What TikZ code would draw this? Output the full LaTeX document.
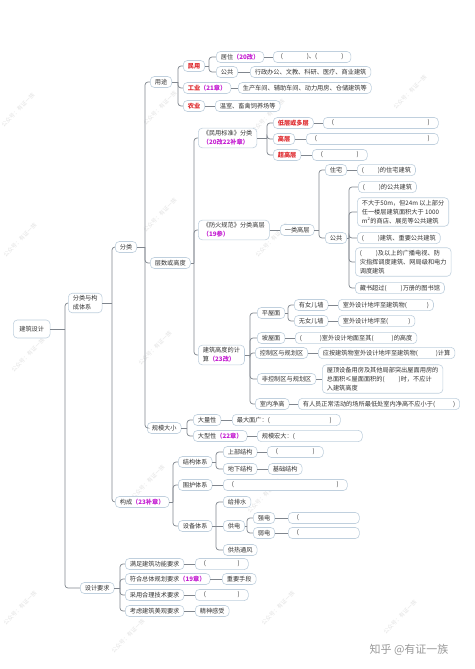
\documentclass[tikz,border=0pt]{standalone}
\usepackage{fontspec}
\setmainfont{Noto Sans CJK SC}
\definecolor{linkgray}{RGB}{128,134,142}
\definecolor{boxline}{RGB}{192,208,222}
\definecolor{hotred}{RGB}{222,40,44}
\definecolor{chapmag}{RGB}{196,30,210}
\definecolor{inkgray}{RGB}{51,51,51}
\newcommand\chap[1]{\textcolor{chapmag}{\bfseries （#1）}}
\newcommand\kong[1]{\makebox[#1]{\hspace{4pt}(\hfill)\hspace{4pt}}}

\begin{document}
\begin{tikzpicture}[x=1pt,y=-1pt,
  every node/.style={font=\fontsize{6.2}{9}\selectfont, text=inkgray},
  leaf/.style={draw=boxline, fill=white, rounded corners=4pt, line width=0.6pt,
    inner xsep=4.5pt, inner ysep=2.4pt, minimum height=11pt, anchor=west, align=left},
  hot/.style={leaf, text=hotred, font=\fontsize{6.2}{9}\selectfont\bfseries},
  link/.style={draw=linkgray, line width=0.7pt, rounded corners=3pt},
  wmark/.style={text=black!11, rotate=45, font=\fontsize{5.5}{6}\selectfont}]
  \useasboundingbox (0,0) rectangle (474,669);
  \fill[white] (0,0) rectangle (474,669);
  % watermarks
  \node[wmark] (wm1) at (18,110) {公众号：有证一族};
  \node[wmark] (wm2) at (160,108) {公众号：有证一族};
  \node[wmark] (wm3) at (268,116) {公众号：有证一族};
  \node[wmark] (wm4) at (410,92) {公众号：有证一族};
  \node[wmark] (wm5) at (20,240) {公众号：有证一族};
  \node[wmark] (wm6) at (160,215) {公众号：有证一族};
  \node[wmark] (wm7) at (272,240) {公众号：有证一族};
  \node[wmark] (wm9) at (28,355) {公众号：有证一族};
  \node[wmark] (wm10) at (155,348) {公众号：有证一族};
  \node[wmark] (wm12) at (148,482) {公众号：有证一族};
  \node[wmark] (wm13) at (264,496) {公众号：有证一族};
  \node[wmark] (wm15) at (20,608) {公众号：有证一族};
  \node[wmark] (wm16) at (128,636) {公众号：有证一族};
  \node[wmark] (wm17) at (278,608) {公众号：有证一族};
  \node[wmark] (wm18) at (400,617) {公众号：有证一族};
  \node[text=black!40, font=\fontsize{11}{12}\selectfont] (zhihu) at (409,650) {知乎 @有证一族};

  % trunk
  \node[leaf, minimum height=18pt, inner xsep=6pt] (root) at (13,329) {建筑设计};
  \node[leaf] (fl) at (68,303) {分类与构\\成体系};
  \node[leaf] (fenlei) at (115,247) {分类};
  \node[leaf] (goucheng) at (115,502) {构成\chap{23补章}};
  \node[leaf] (yaoqiu) at (80,588) {设计要求};
  \node[leaf] (yongtu) at (150,82) {用途};
  \node[leaf] (cengshu) at (150,263) {层数或高度};
  \node[leaf] (guimo) at (147,428) {规模大小};

  % yongtu
  \node[hot] (minyong) at (183,66) {民用};
  \node[hot] (gongye) at (183,88) {工业\chap{21章}};
  \node[hot] (nongye) at (183,106) {农业};
  \node[leaf] (juzhu) at (216,57) {居住\chap{20改}};
  \node[leaf] (juzhu-b) at (273,57) {\hspace{3pt}(\hspace{24pt})、(\hspace{24pt})\hspace{3pt}};
  \node[leaf] (gonggong) at (216,72) {公共};
  \node[leaf] (gonggong-b) at (250,72) {行政办公、文教、科研、医疗、商业建筑};
  \node[leaf] (gongye-b) at (238,88) {生产车间、辅助车间、动力用房、仓储建筑等};
  \node[leaf] (nongye-b) at (215,106) {温室、畜禽饲养场等};

  % cengshu
  \node[leaf] (minbiao) at (198,138) {《民用标准》分类\\\chap{20改22补章}};
  \node[hot] (diceng) at (273,123) {低层或多层};
  \node[leaf] (diceng-b) at (323,123) {\kong{106pt}};
  \node[hot] (gaoceng) at (273,139) {高层};
  \node[leaf] (gaoceng-b) at (306,139) {\kong{123pt}};
  \node[hot] (chaogao) at (273,155) {超高层};
  \node[leaf] (chaogao-b) at (312,155) {\kong{46pt}};
  \node[leaf] (fanghuo) at (198,230) {《防火规范》分类高层\\\chap{19参}};
  \node[leaf] (yilei) at (280,230) {一类高层};
  \node[leaf] (zhuzhai) at (325,170) {住宅};
  \node[leaf] (zhuzhai-b) at (357,170) {(\hspace{14pt})的住宅建筑};
  \node[leaf] (gonggong2) at (325,238) {公共};
  \node[leaf] (gg-a) at (358,187) {(\hspace{14pt})的公共建筑};
  \node[leaf] (gg-b) at (357,212) {不大于50m，但24m 以上部分\\任一楼层建筑面积大于 1000\\m\textsuperscript{2}的商店、展览等公共建筑};
  \node[leaf] (gg-c) at (357,238) {(\hspace{14pt})建筑、重要公共建筑};
  \node[leaf] (gg-d) at (355,262) {(\hspace{14pt})及以上的广播电视、防\\灾指挥调度建筑、网局级和电力\\调度建筑};
  \node[leaf] (gg-e) at (355,288) {藏书超过(\hspace{14pt})万册的图书馆};
  \node[leaf] (jisuan) at (198,355) {建筑高度的计\\算\chap{23改}};
  \node[leaf] (pingwu) at (257,313) {平屋面};
  \node[leaf] (younv) at (294,305) {有女儿墙};
  \node[leaf] (younv-b) at (338,305) {室外设计地坪至建筑物(\hspace{20pt})};
  \node[leaf] (wunv) at (294,321) {无女儿墙};
  \node[leaf] (wunv-b) at (338,321) {室外设计地坪至(\hspace{20pt})};
  \node[leaf] (powu) at (257,338) {坡屋面};
  \node[leaf] (powu-b) at (295,338) {(\hspace{18pt})室外设计地面至其(\hspace{18pt})的高度};
  \node[leaf] (kongzhi) at (255,353) {控制区与规划区};
  \node[leaf] (kongzhi-b) at (318,353) {应按建筑物室外设计地坪至建筑物(\hspace{18pt})计算};
  \node[leaf] (feikong) at (257,379) {非控制区与规划区};
  \node[leaf] (feikong-b) at (322,379) {屋顶设备用房及其他局部突出屋面用房的\\总面积≤屋面面积的(\hspace{14pt})时，不应计\\入建筑高度};
  \node[leaf] (jinggao) at (255,404) {室内净高};
  \node[leaf] (jinggao-b) at (298,404) {有人员正常活动的场所最低处室内净高不应小于(\hspace{18pt})};

  % guimo
  \node[leaf] (daliang) at (193,420) {大量性};
  \node[leaf] (daliang-b) at (232,420) {\makebox[99pt]{最大面广：(\hfill)\hspace{4pt}}};
  \node[leaf] (daxing) at (193,436) {大型性\chap{22章}};
  \node[leaf] (daxing-b) at (257,436) {\makebox[96pt][l]{规模宏大：(}};

  % goucheng
  \node[leaf] (jiegou) at (178,462) {结构体系};
  \node[leaf] (shangbu) at (223,452) {上部结构};
  \node[leaf] (shangbu-b) at (267,452) {\kong{47pt}};
  \node[leaf] (dixia) at (223,469) {地下结构};
  \node[leaf] (dixia-b) at (268,469) {基础结构};
  \node[leaf] (weihu) at (178,485) {围护体系};
  \node[leaf] (weihu-b) at (223,485) {\kong{115pt}};
  \node[leaf] (shebei) at (178,526) {设备体系};
  \node[leaf] (geipai) at (223,502) {给排水};
  \node[leaf] (gongdian) at (223,526) {供电};
  \node[leaf] (qiang) at (253,518) {强电};
  \node[leaf] (qiang-b) at (288,518) {\makebox[62pt][l]{\hspace{4pt}(}};
  \node[leaf] (ruo) at (253,533) {弱电};
  \node[leaf] (ruo-b) at (288,533) {\makebox[62pt][l]{\hspace{4pt}(}};
  \node[leaf] (gongre) at (223,550) {供热通风};

  % yaoqiu
  \node[leaf] (manzu) at (125,564) {满足建筑功能要求};
  \node[leaf] (manzu-b) at (195,564) {\kong{44pt}};
  \node[leaf] (fuhe) at (125,579) {符合总体规划要求\chap{19章}};
  \node[leaf] (fuhe-b) at (222,579) {重要手段};
  \node[leaf] (caiyong) at (125,595) {采用合理技术要求};
  \node[leaf] (caiyong-b) at (195,595) {\kong{44pt}};
  \node[leaf] (kaolv) at (125,611) {考虑建筑美观要求};
  \node[leaf] (kaolv-b) at (195,611) {精神感受};

  % junctions
  \coordinate (root-j) at (65,329);
  \coordinate (fl-j) at (112,303);
  \coordinate (fenlei-j) at (145,247);
  \coordinate (yongtu-j) at (178,82);
  \coordinate (minyong-j) at (209,66);
  \coordinate (cengshu-j) at (194,263);
  \coordinate (minbiao-j) at (267,138);
  \coordinate (yilei-j) at (319,230);
  \coordinate (gonggong2-j) at (349,238);
  \coordinate (jisuan-j) at (250,355);
  \coordinate (pingwu-j) at (288,313);
  \coordinate (guimo-j) at (187,428);
  \coordinate (goucheng-j) at (173,502);
  \coordinate (jiegou-j) at (216,462);
  \coordinate (shebei-j) at (216,526);
  \coordinate (gongdian-j) at (247,526);
  \coordinate (yaoqiu-j) at (120,588);

  \draw[link] (root.east) -- (root-j);
  \draw[link] (root-j) |- (fl.west);
  \draw[link] (root-j) |- (yaoqiu.west);
  \draw[link] (fl.east) -- (fl-j);
  \draw[link] (fl-j) |- (fenlei.west);
  \draw[link] (fl-j) |- (goucheng.west);
  \draw[link] (fenlei.east) -- (fenlei-j);
  \draw[link] (fenlei-j) |- (yongtu.west);
  \draw[link] (fenlei-j) |- (cengshu.west);
  \draw[link] (fenlei-j) |- (guimo.west);
  \draw[link] (yongtu.east) -- (yongtu-j);
  \draw[link] (yongtu-j) |- (minyong.west);
  \draw[link] (yongtu-j) |- (gongye.west);
  \draw[link] (yongtu-j) |- (nongye.west);
  \draw[link] (minyong.east) -- (minyong-j);
  \draw[link] (minyong-j) |- (juzhu.west);
  \draw[link] (minyong-j) |- (gonggong.west);
  \draw[link] (juzhu) -- (juzhu-b);
  \draw[link] (gonggong) -- (gonggong-b);
  \draw[link] (gongye) -- (gongye-b);
  \draw[link] (nongye) -- (nongye-b);
  \draw[link] (cengshu.east) -- (cengshu-j);
  \draw[link] (cengshu-j) |- (minbiao.west);
  \draw[link] (cengshu-j) |- (fanghuo.west);
  \draw[link] (cengshu-j) |- (jisuan.west);
  \draw[link] (minbiao.east) -- (minbiao-j);
  \draw[link] (minbiao-j) |- (diceng.west);
  \draw[link] (minbiao-j) |- (gaoceng.west);
  \draw[link] (minbiao-j) |- (chaogao.west);
  \draw[link] (diceng) -- (diceng-b);
  \draw[link] (gaoceng) -- (gaoceng-b);
  \draw[link] (chaogao) -- (chaogao-b);
  \draw[link] (fanghuo) -- (yilei);
  \draw[link] (yilei.east) -- (yilei-j);
  \draw[link] (yilei-j) |- (zhuzhai.west);
  \draw[link] (yilei-j) |- (gonggong2.west);
  \draw[link] (zhuzhai) -- (zhuzhai-b);
  \draw[link] (gonggong2.east) -- (gonggong2-j);
  \draw[link] (gonggong2-j) |- (gg-a.west);
  \draw[link] (gonggong2-j) |- (gg-b.west);
  \draw[link] (gonggong2-j) |- (gg-c.west);
  \draw[link] (gonggong2-j) |- (gg-d.west);
  \draw[link] (gonggong2-j) |- (gg-e.west);
  \draw[link] (jisuan.east) -- (jisuan-j);
  \draw[link] (jisuan-j) |- (pingwu.west);
  \draw[link] (jisuan-j) |- (powu.west);
  \draw[link] (jisuan-j) |- (kongzhi.west);
  \draw[link] (jisuan-j) |- (feikong.west);
  \draw[link] (jisuan-j) |- (jinggao.west);
  \draw[link] (pingwu.east) -- (pingwu-j);
  \draw[link] (pingwu-j) |- (younv.west);
  \draw[link] (pingwu-j) |- (wunv.west);
  \draw[link] (younv) -- (younv-b);
  \draw[link] (wunv) -- (wunv-b);
  \draw[link] (powu) -- (powu-b);
  \draw[link] (kongzhi) -- (kongzhi-b);
  \draw[link] (feikong) -- (feikong-b);
  \draw[link] (jinggao) -- (jinggao-b);
  \draw[link] (guimo.east) -- (guimo-j);
  \draw[link] (guimo-j) |- (daliang.west);
  \draw[link] (guimo-j) |- (daxing.west);
  \draw[link] (daliang) -- (daliang-b);
  \draw[link] (daxing) -- (daxing-b);
  \draw[link] (goucheng.east) -- (goucheng-j);
  \draw[link] (goucheng-j) |- (jiegou.west);
  \draw[link] (goucheng-j) |- (weihu.west);
  \draw[link] (goucheng-j) |- (shebei.west);
  \draw[link] (jiegou.east) -- (jiegou-j);
  \draw[link] (jiegou-j) |- (shangbu.west);
  \draw[link] (jiegou-j) |- (dixia.west);
  \draw[link] (shangbu) -- (shangbu-b);
  \draw[link] (dixia) -- (dixia-b);
  \draw[link] (weihu) -- (weihu-b);
  \draw[link] (shebei.east) -- (shebei-j);
  \draw[link] (shebei-j) |- (geipai.west);
  \draw[link] (shebei-j) -- (gongdian.west);
  \draw[link] (shebei-j) |- (gongre.west);
  \draw[link] (gongdian.east) -- (gongdian-j);
  \draw[link] (gongdian-j) |- (qiang.west);
  \draw[link] (gongdian-j) |- (ruo.west);
  \draw[link] (qiang) -- (qiang-b);
  \draw[link] (ruo) -- (ruo-b);
  \draw[link] (yaoqiu.east) -- (yaoqiu-j);
  \draw[link] (yaoqiu-j) |- (manzu.west);
  \draw[link] (yaoqiu-j) |- (fuhe.west);
  \draw[link] (yaoqiu-j) |- (caiyong.west);
  \draw[link] (yaoqiu-j) |- (kaolv.west);
  \draw[link] (manzu) -- (manzu-b);
  \draw[link] (fuhe) -- (fuhe-b);
  \draw[link] (caiyong) -- (caiyong-b);
  \draw[link] (kaolv) -- (kaolv-b);
\end{tikzpicture}
\end{document}
